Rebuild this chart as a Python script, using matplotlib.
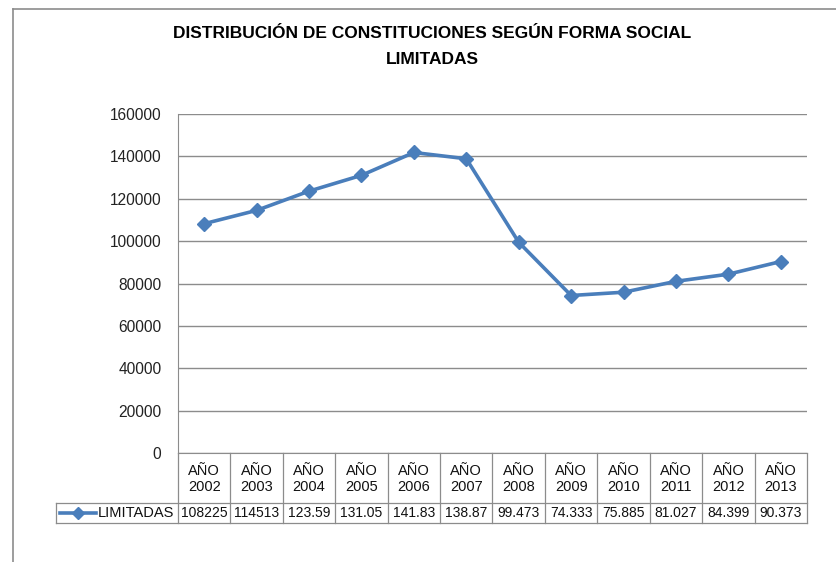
import matplotlib.pyplot as plt
import matplotlib.transforms as mtransforms
from matplotlib.lines import Line2D

plt.rcParams['font.family'] = ['Liberation Sans', 'DejaVu Sans']

# ── data ──────────────────────────────────────────────────────────────
years = ['2002', '2003', '2004', '2005', '2006', '2007',
         '2008', '2009', '2010', '2011', '2012', '2013']
limitadas = [108225, 114513, 123590, 131050, 141830, 138870,
             99473, 74333, 75885, 81027, 84399, 90373]
# values as they are printed in the data table
table_text = ['108225', '114513', '123.59', '131.05', '141.83', '138.87',
              '99.473', '74.333', '75.885', '81.027', '84.399', '90.373']
series_name = 'LIMITADAS'

W, H = 836, 562
blue = '#4A7EBB'
grid_c = '#8C8C8C'

fig = plt.figure(figsize=(W / 100, H / 100), dpi=100)
ax = fig.add_axes([178 / W, 1 - 453 / H, (807 - 178) / W, (453 - 114) / H])

x = list(range(len(years)))
ax.plot(x, limitadas, color=blue, lw=2.6, marker='D', ms=7,
        markerfacecolor=blue, markeredgecolor=blue)

ax.set_xlim(-0.5, len(years) - 0.5)
ax.set_ylim(0, 160000)
ax.set_yticks(range(0, 160001, 20000))
ax.set_yticklabels([str(v) for v in range(0, 160001, 20000)], fontsize=11.2,
                   color='#222222')
ax.tick_params(axis='y', length=0, pad=12)
ax.set_xticks([])
ax.grid(axis='y', color=grid_c, lw=1.0)
ax.set_axisbelow(True)
for s in ['top', 'right']:
    ax.spines[s].set_visible(False)
ax.spines['left'].set_color(grid_c)
ax.spines['bottom'].set_color(grid_c)

# ── data table under the axis ──────────────────────────────────────────
trans = mtransforms.blended_transform_factory(ax.transData, ax.transAxes)
ph = 453 - 114
r1 = -50 / ph   # bottom of header row
r2 = -70 / ph   # bottom of value row
lc = dict(color=grid_c, lw=0.9, clip_on=False, transform=trans)
n = len(years)
for i in range(n + 1):
    ax.add_line(Line2D([i - 0.5, i - 0.5], [0, r2], **lc))
# left edge of the legend cell, in pixels converted to data units
x_leg = -0.5 - (178 - 56) / ((807 - 178) / n)
ax.add_line(Line2D([x_leg, n - 0.5], [r1, r1], **lc))
ax.add_line(Line2D([x_leg, n - 0.5], [r2, r2], **lc))
ax.add_line(Line2D([x_leg, x_leg], [r1, r2], **lc))

for i, (yr, tv) in enumerate(zip(years, table_text)):
    ax.text(i, r1 / 2 - 0.003, 'AÑO\n' + yr, transform=trans, ha='center',
            va='center', fontsize=10.5, linespacing=1.2, color='#111111')
    ax.text(i, (r1 + r2) / 2, tv, transform=trans, ha='center', va='center',
            fontsize=10, color='#111111')

# legend key inside the table
px = (807 - 178) / n
def xp(pix):
    return -0.5 + (pix - 178) / px
ym = (r1 + r2) / 2
ax.add_line(Line2D([xp(60), xp(96)], [ym, ym], color=blue, lw=2.6,
                   clip_on=False, transform=trans))
ax.add_line(Line2D([xp(78)], [ym], color=blue, marker='D', ms=6,
                   clip_on=False, transform=trans))
ax.text(xp(98), ym, series_name, transform=trans, ha='left', va='center',
        fontsize=10.5, color='#111111')

# ── title ──────────────────────────────────────────────────────────────
fig.text(432 / W, 1 - 34 / H, 'DISTRIBUCIÓN DE CONSTITUCIONES SEGÚN FORMA SOCIAL',
         ha='center', va='center', fontsize=12.5, fontweight='bold')
fig.text(432 / W, 1 - 60 / H, 'LIMITADAS', ha='center', va='center',
         fontsize=12.5, fontweight='bold')

# outer chart border (top and left edges visible)
fig.add_artist(Line2D([13 / W, 1], [1 - 8.5 / H, 1 - 8.5 / H], color='#8C8C8C',
                      lw=1.2, transform=fig.transFigure))
fig.add_artist(Line2D([13 / W, 13 / W], [0, 1 - 8.5 / H], color='#8C8C8C',
                      lw=1.2, transform=fig.transFigure))

fig.savefig('out.png', dpi=100)
